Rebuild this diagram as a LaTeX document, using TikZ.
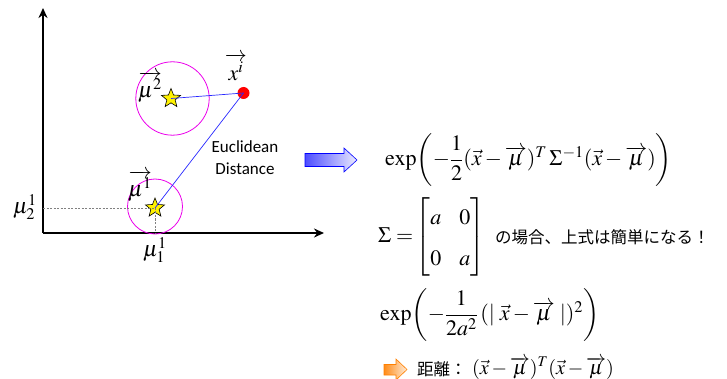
\documentclass[tikz,border=0pt]{standalone}
\usepackage{mathptmx}
\usepackage{amsmath}
\usepackage{fontspec}
\setmainfont{Liberation Serif}
\newfontfamily\calib{Carlito}
\newfontfamily\jp{Noto Sans CJK JP}
\usetikzlibrary{shapes.geometric,arrows.meta}
\definecolor{ringc}{RGB}{235,0,235}
\definecolor{linkc}{RGB}{40,40,255}
\tikzset{
  axis/.style={line width=1.8pt,-{Stealth[length=10pt,width=9pt]}},
  ring/.style={draw=ringc,line width=0.8pt},
  starnode/.style={star,star points=5,star point ratio=2.3,draw=black,fill=yellow,inner sep=0pt,minimum size=20pt,line width=0.6pt},
  link/.style={draw=linkc,line width=0.7pt},
  guide/.style={draw=gray,line width=0.4pt,dash pattern=on 2pt off 1.5pt},
  mlabel/.style={inner sep=0pt,font=\fontsize{22}{26}\selectfont},
  big/.style={inner sep=0pt,font=\fontsize{22}{26}\selectfont},
}
\begin{document}
\begin{tikzpicture}[x=1pt,y=-1pt]
\useasboundingbox (0,0) rectangle (727,379);
% axes
\coordinate (O) at (43,233);
\coordinate (ytip) at (43,8);
\coordinate (xtip) at (324,233);
\draw[axis] (O) -- (ytip);
\draw[axis] (O) -- (xtip);
% circles
\draw[ring] (172.5,98.5) circle (36.7);
\draw[ring] (155,206.5) circle (27.5);
% points
\node[starnode] (s2) at (171,98.5) {};
\node[starnode] (s1) at (155,208) {};
\node[circle,fill=red,inner sep=0pt,minimum size=12pt] (xi) at (243.5,93) {};
% dashed guides
\coordinate (gy) at (43,208);
\coordinate (gx) at (155,233);
\draw[guide] (gy) -- (s1.center);
\draw[guide] (s1.center) -- (gx);
% links
\draw[link] (s2.center) -- (xi.center);
\draw[link] (s1.center) -- (xi.center);
% labels
\node[mlabel] (lmu2) at (150,87) {$\overrightarrow{\mu^2}$};
\node[mlabel] (lmu1) at (140,186) {$\overrightarrow{\mu^1}$};
\node[mlabel] (lxi) at (236,67) {$\overrightarrow{x^i}$};
\node[mlabel] (lm21) at (25,207) {$\mu_2^1$};
\node[mlabel] (lm11) at (155,250) {$\mu_1^1$};
\node[align=center,inner sep=0pt,font=\calib\fontsize{17}{22}\selectfont] (eu) at (245,158) {Euclidean\\Distance};
% blue block arrow
\shade[left color=blue!70,right color=blue!8,draw=blue,line width=0.6pt]
  (305,153.5) -- (344,153.5) -- (344,148) -- (357,160) -- (344,172) -- (344,166.5) -- (305,166.5) -- cycle;
% formula 1
\node[big,anchor=west] (f1) at (385,160) {$\exp\!\left(-\dfrac{1}{2}(\vec{x}-\overrightarrow{\mu})^{T}\,\Sigma^{-1}(\vec{x}-\overrightarrow{\mu})\right)$};
% matrix
\node[big,anchor=west] (f2) at (378,237) {\renewcommand{\arraystretch}{1.55}\setlength{\arraycolsep}{9pt}$\Sigma=\!\begin{bmatrix} a & 0\\ 0 & a\end{bmatrix}$};
\node[anchor=west,inner sep=0pt,font=\jp\fontsize{16.5}{20}\selectfont] (jp1) at (495,237) {の場合、上式は簡単になる！};
% formula 2
\node[big,anchor=west] (f3) at (380,315) {$\exp\!\left(-\dfrac{1}{2a^2}\,(|\;\vec{x}-\overrightarrow{\mu}\;|)^2\right)$};
% orange block arrow
\shade[left color=orange!90,right color=orange!15,draw=orange,line width=0.6pt]
  (384,364.5) -- (396,364.5) -- (396,359) -- (407,369.5) -- (396,380) -- (396,375) -- (384,375) -- cycle;
\node[anchor=west,inner sep=0pt,font=\jp\fontsize{16.5}{20}\selectfont] (jp2) at (417,369) {距離：};
\node[anchor=west,inner sep=0pt,font=\fontsize{20}{24}\selectfont] (f4) at (472,368) {$(\vec{x}-\overrightarrow{\mu})^{T}(\vec{x}-\overrightarrow{\mu})$};
\end{tikzpicture}
\end{document}
